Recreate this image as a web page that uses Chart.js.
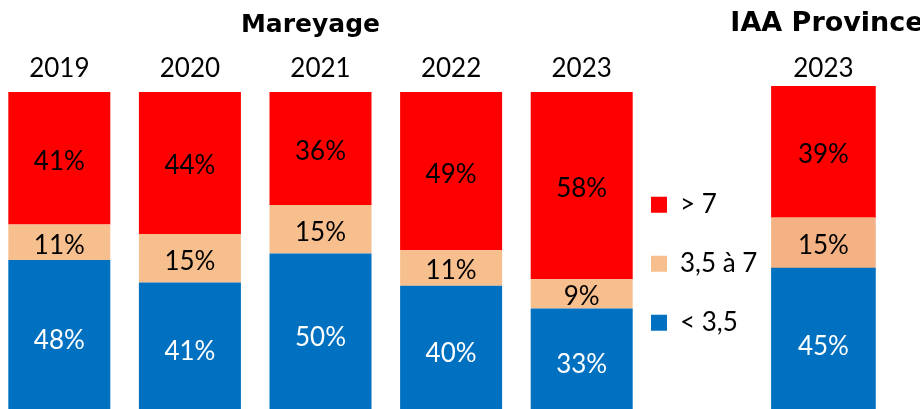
<!DOCTYPE html>
<html>
<head>
<meta charset="utf-8">
<script src="https://cdn.jsdelivr.net/npm/chart.js@4"></script>
<style>
  html, body { margin: 0; padding: 0; width: 920px; height: 409px; overflow: hidden; background: #ffffff; }
  body { position: relative; }
  canvas { position: absolute; top: 0; }
  #mareyage { left: -26px; }
  #iaa { left: 618px; }
</style>
</head>
<body>
<canvas id="mareyage" width="673" height="415"></canvas>
<canvas id="iaa" width="418" height="420"></canvas>
<script>
// ---- Data ----
const years = ['2019', '2020', '2021', '2022', '2023'];
const seriesNames = ['< 3,5', '3,5 à 7', '> 7'];
const lowShare  = [48, 41, 50, 40, 33];   // < 3,5
const midShare  = [11, 15, 15, 11, 9];    // 3,5 à 7
const highShare = [41, 44, 36, 49, 58];   // > 7

const iaaYears = ['2023'];
const iaaLow  = [45];
const iaaMid  = [15];
const iaaHigh = [39];

// ---- Styles ----
const colBlue = '#0070C0';
const colPeach = '#F8BF8E';
const colPeachIaa = '#F4B183';
const colRed = '#FF0000';
const labelColors = ['#ffffff', '#000000', '#000000'];

Chart.defaults.font.family = 'Lato';
Chart.defaults.color = '#000000';

const valueLabels = {
  id: 'valueLabels',
  afterDatasetsDraw(chart) {
    const { ctx, chartArea } = chart;
    ctx.save();
    ctx.font = '26px Lato';
    ctx.textAlign = 'center';
    ctx.textBaseline = 'middle';
    chart.data.datasets.forEach((ds, di) => {
      const meta = chart.getDatasetMeta(di);
      meta.data.forEach((bar, i) => {
        const top = Math.max(Math.min(bar.y, bar.base), chartArea.top);
        const bottom = Math.min(Math.max(bar.y, bar.base), chartArea.bottom);
        ctx.fillStyle = labelColors[di];
        ctx.fillText(ds.data[i] + '%', bar.x, (top + bottom) / 2 + 3);
      });
    });
    ctx.restore();
  }
};

function makeDatasets(low, mid, high, peach, clip) {
  return [
    { label: seriesNames[0], data: low,  backgroundColor: colBlue,  borderWidth: 0, clip: clip },
    { label: seriesNames[1], data: mid,  backgroundColor: peach,    borderWidth: 0, clip: clip },
    { label: seriesNames[2], data: high, backgroundColor: colRed,   borderWidth: 0, clip: clip }
  ];
}

const xAxisCommon = {
  type: 'category',
  position: 'top',
  stacked: true,
  grid: { display: false, drawTicks: false },
  border: { display: false },
  ticks: { font: { family: 'Lato', size: 26 }, color: '#000000' }
};

// ---- Mareyage chart ----
new Chart(document.getElementById('mareyage'), {
  type: 'bar',
  data: { labels: years, datasets: makeDatasets(lowShare, midShare, highShare, colPeach, 0) },
  options: {
    responsive: false,
    animation: false,
    events: [],
    datasets: { bar: { categoryPercentage: 0.781, barPercentage: 1 } },
    layout: { padding: 0 },
    scales: {
      x: Object.assign({}, xAxisCommon, { ticks: Object.assign({}, xAxisCommon.ticks, { padding: 8.1 }) }),
      y: {
        stacked: true, min: 0, max: 100, position: 'left',
        grid: { display: false, drawTicks: false },
        border: { display: false },
        ticks: { display: false },
        afterFit(scale) { scale.width = 20; }
      }
    },
    plugins: {
      legend: { display: false },
      tooltip: { enabled: false },
      title: {
        display: true,
        text: 'Mareyage',
        color: '#000000',
        font: { family: 'DejaVu Sans', size: 25, weight: 'bold' },
        padding: { top: 10.7, bottom: 3.9 }
      }
    }
  },
  plugins: [valueLabels]
});

// ---- IAA Province chart (with legend) ----
const legendColors = [colBlue, colPeach, colRed];
new Chart(document.getElementById('iaa'), {
  type: 'bar',
  data: { labels: iaaYears, datasets: makeDatasets(iaaLow, iaaMid, iaaHigh, colPeachIaa, 0) },
  options: {
    responsive: false,
    animation: false,
    events: [],
    datasets: { bar: { barThickness: 104 } },
    layout: { padding: 0 },
    scales: {
      x: Object.assign({}, xAxisCommon, { ticks: Object.assign({}, xAxisCommon.ticks, { padding: 2.1 }) }),
      y: {
        stacked: true, min: 0, max: 99, position: 'right',
        grid: { display: false, drawTicks: false },
        border: { display: false },
        ticks: { display: false },
        afterFit(scale) { scale.width = 156.5; }
      }
    },
    plugins: {
      tooltip: { enabled: false },
      title: {
        display: true,
        text: 'IAA Province',
        color: '#000000',
        font: { family: 'DejaVu Sans', size: 27, weight: 'bold' },
        padding: { top: 7.9, bottom: 10.3 }
      },
      legend: {
        display: true,
        position: 'left',
        fullSize: false,
        align: 'center',
        reverse: true,
        maxWidth: 260,
        title: { display: true, text: '', font: { size: 10 }, padding: 4.7 },
        labels: {
          font: { family: 'Lato', size: 26 },
          color: '#000000',
          boxWidth: 16,
          boxHeight: 16,
          padding: 33,
          generateLabels(chart) {
            const items = Chart.defaults.plugins.legend.labels.generateLabels(chart);
            items.forEach((it) => {
              it.fillStyle = legendColors[it.datasetIndex];
              it.strokeStyle = legendColors[it.datasetIndex];
              it.lineWidth = 0;
            });
            return items;
          }
        }
      }
    }
  },
  plugins: [valueLabels]
});
</script>
</body>
</html>
